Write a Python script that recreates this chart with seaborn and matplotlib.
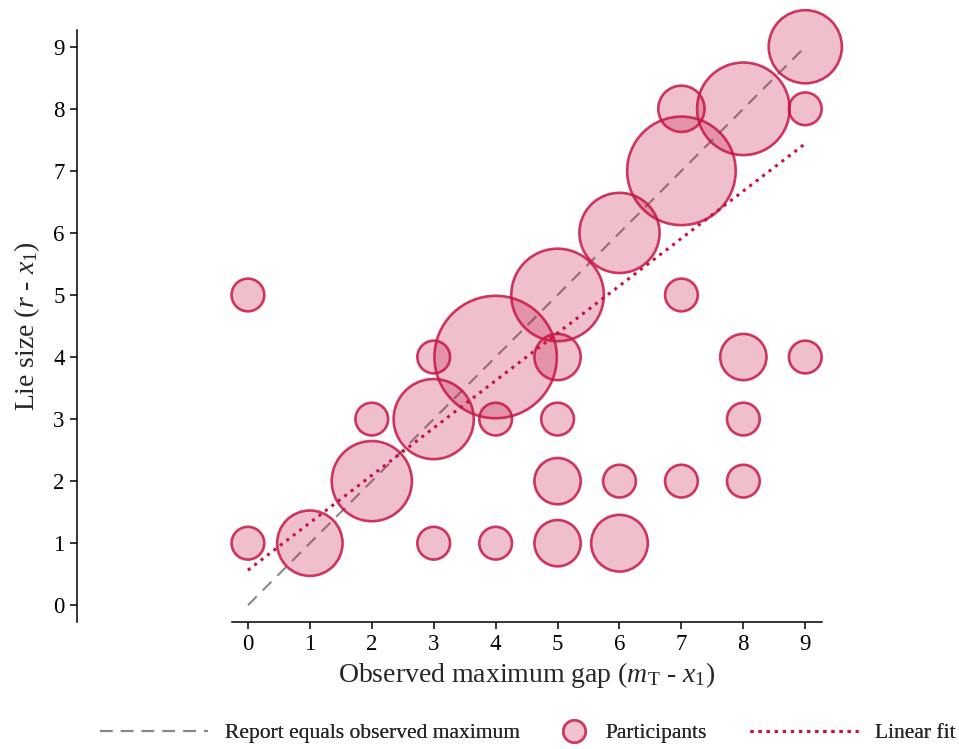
import numpy as np
import pandas as pd
import matplotlib
matplotlib.use('Agg')
import matplotlib.pyplot as plt
from matplotlib.lines import Line2D
import seaborn as sns

# bubble data: observed maximum gap, lie size, number of participants
gap = [0, 0, 1, 2, 2, 3, 3, 3, 4, 4, 4, 5, 5, 5, 5, 5, 6, 6, 6, 7, 7, 7, 7, 8, 8, 8, 8, 9, 9, 9]
lie = [1, 5, 1, 2, 3, 1, 3, 4, 1, 3, 4, 1, 2, 3, 4, 5, 1, 2, 6, 2, 5, 7, 8, 2, 3, 4, 8, 4, 8, 9]
count = [1, 1, 4, 6, 1, 1, 6, 1, 1, 1, 14, 2, 2, 1, 2, 8, 3, 1, 6, 1, 1, 11, 2, 1, 1, 2, 8, 1, 1, 5]
ticks = list(range(10))

df = pd.DataFrame({'gap': gap, 'lie': lie, 'n': count})
# one row per participant for the fit
people = df.loc[df.index.repeat(df['n'])]

sns.set_style('ticks')
plt.rcParams['font.family'] = ['Liberation Serif', 'DejaVu Serif']
plt.rcParams['mathtext.fontset'] = 'custom'
plt.rcParams['mathtext.rm'] = 'Liberation Serif'
plt.rcParams['mathtext.it'] = 'Liberation Serif:italic'

red = '#C8103E'
edge = (0.78, 0.09, 0.27, 0.85)
face = (0.78, 0.09, 0.27, 0.27)

fig = plt.figure(figsize=(9.59, 7.49), dpi=100)
ax = fig.add_axes([77 / 959, 1 - 622 / 749, (822 - 77) / 959, (622 - 30) / 749])

# identity line under the bubbles
ax.plot([0, 9], [0, 9], color='#888888', lw=1.5, dashes=(6, 4), zorder=1)

sizes = {v: 555 * v for v in sorted(set(count))}
sns.scatterplot(data=df, x='gap', y='lie', size='n', sizes=sizes, legend=False,
                color=face, edgecolor=edge, linewidth=1.9, ax=ax, zorder=2)
ax.collections[0].set_clip_on(False)

sns.regplot(data=people, x='gap', y='lie', scatter=False, ci=None, truncate=True,
            line_kws=dict(color=red, lw=2.2, ls=':', zorder=3), ax=ax)

ax.set_xlim(-2.76, 9.27)
ax.set_ylim(-0.27, 9.27)
ax.set_xticks(ticks)
ax.set_yticks(ticks)
ax.spines['top'].set_visible(False)
ax.spines['right'].set_visible(False)
ax.spines['bottom'].set_bounds(-0.26, 9.27)
for s in ['left', 'bottom']:
    ax.spines[s].set_linewidth(1.1)
    ax.spines[s].set_color('black')
ax.tick_params(labelsize=16.5, length=5, width=1.1, colors='black', pad=4)

ax.set_xlabel(r'Observed maximum gap ($m_{\mathrm{T}}$ - $x_{\mathrm{1}}$)', fontsize=20)
ax.set_ylabel(r'Lie size ($r$ - $x_{\mathrm{1}}$)', fontsize=20, labelpad=8)
# centre the x label under the visible bottom spine
ax.xaxis.set_label_coords((527 - 77) / 745, -0.064, transform=ax.transAxes)
ax.xaxis.label.set_va('top')

# legend entries placed one by one along the bottom
entries = [
    (Line2D([], [], color='#888888', lw=1.5, dashes=(6, 4)),
     'Report equals observed maximum', 100, 5.0),
    (Line2D([], [], ls='none', marker='o', markersize=16, markerfacecolor='#F0C3CE',
            markeredgecolor='#CF3A61', markeredgewidth=1.9),
     'Participants', 560, 1.3),
    (Line2D([], [], color=red, lw=2.2, ls=':'),
     'Linear fit', 750, 5.0),
]
for h, lab, xpix, hl in entries:
    leg = fig.legend([h], [lab], loc='center left', bbox_to_anchor=(xpix / 959, 1 - 733 / 749),
                     frameon=False, fontsize=15.5, handlelength=hl, handletextpad=0.8,
                     borderpad=0, borderaxespad=0, numpoints=1)
    fig.add_artist(leg)

fig.savefig('out.png', dpi=100)
